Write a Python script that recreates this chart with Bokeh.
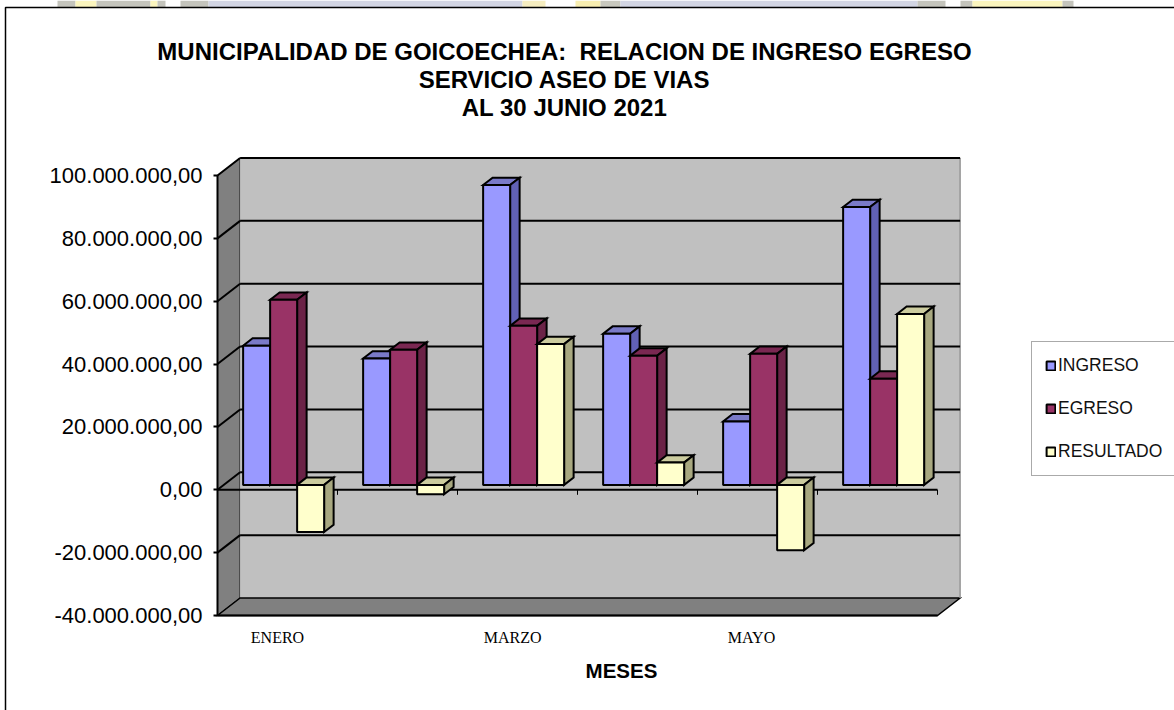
from bokeh.embed import file_html
from bokeh.resources import INLINE
from bokeh.plotting import figure
from bokeh.models import (Range1d, FixedTicker, BoxAnnotation, Label, Legend, LegendItem,
                          CustomJSTickFormatter)

titles = ["MUNICIPALIDAD DE GOICOECHEA:\u00a0 RELACION DE INGRESO EGRESO",
          "SERVICIO ASEO DE VIAS", "AL 30 JUNIO 2021"]
x_title = "MESES"
tick_months = {0.5: "ENERO", 2.46: "MARZO", 4.45: "MAYO"}
y_ticks = [-40e6, -20e6, 0, 20e6, 40e6, 60e6, 80e6, 100e6]
series_names = ["INGRESO", "EGRESO", "RESULTADO"]
ingreso = [44.3e6, 40.2e6, 95.4e6, 48.1e6, 20.2e6, 88.4e6]
egreso = [58.9e6, 43.0e6, 50.6e6, 41.1e6, 41.7e6, 33.8e6]
resultado = [-15.0e6, -3.0e6, 44.8e6, 7.1e6, -20.8e6, 54.4e6]

FRONT = ["#9999FF", "#993366", "#FFFFCC"]
SIDE = ["#6161B5", "#6B2347", "#A8A880"]
TOP = ["#7A7AC8", "#7A2852", "#CCCC9F"]

# plot geometry (pixels)
W, H = 1174, 710
L = 217
ZERO = 489.3
PX_CAT = 120.0
PX_VAL = 3.143e-6
DX, DY = 22.6, 17.5           # depth of the box
D1, D2 = 0.28, 0.70           # front / back of the bars inside the depth
BAR_W = 27 / PX_CAT
BAR_GAP = 19.3 / PX_CAT

p = figure(width=W, height=H, output_backend="svg", toolbar_location=None,
           x_range=Range1d(-L / PX_CAT, (W - L) / PX_CAT),
           y_range=Range1d((ZERO - H) / PX_VAL, ZERO / PX_VAL),
           min_border_left=0, min_border_right=0, min_border_top=0, min_border_bottom=0,
           background_fill_color="white", border_fill_color="white",
           outline_line_color=None, margin=(0, 0, 0, 0))
p.grid.visible = False

ox, oy = DX / PX_CAT, DY / PX_VAL   # depth vector in data units


def face(pts, fill, lw=2, line="black"):
    return p.patch([a for a, _ in pts], [b for _, b in pts], fill_color=fill, line_color=line,
                   line_width=lw, line_join="miter")


def seg(x0, y0, x1, y1, lw=2):
    p.line([x0, x1], [y0, y1], line_color="black", line_width=lw)


ymin, ymax = -40e6, 100e6
# walls and floor
face([(0, ymin), (ox, ymin + oy), (ox, ymax + oy), (0, ymax)], "#808080", 1)
face([(ox, ymin + oy), (6 + ox, ymin + oy), (6 + ox, ymax + oy), (ox, ymax + oy)], "#C0C0C0", 0, "#C0C0C0")
face([(0, ymin), (6, ymin), (6 + ox, ymin + oy), (ox, ymin + oy)], "#808080", 1.5)
p.line([6 + ox, 6 + ox], [ymin + oy, ymax + oy], line_color="#969696", line_width=1.5)
for v in y_ticks:
    if v == ymin:
        continue
    seg(0, v, ox, v + oy)
    seg(ox, v + oy, 6 + ox, v + oy)
# category axis at zero
seg(0, 0, 6, 0)
for c in range(1, 7):
    seg(c, 0, c, -5 / PX_VAL * 1.0, 1)


def bar(c, s, val):
    x0 = c + BAR_GAP + D1 * ox + s * BAR_W
    x1 = x0 + BAR_W
    yb = D1 * oy
    yt = val + D1 * oy
    d = (D2 - D1)
    top = max(yb, yt)
    low = min(yb, yt)
    face([(x0, top), (x1, top), (x1 + d * ox, top + d * oy), (x0 + d * ox, top + d * oy)], TOP[s])
    face([(x1, low), (x1 + d * ox, low + d * oy), (x1 + d * ox, top + d * oy), (x1, top)], SIDE[s])
    return p.quad(left=[x0], right=[x1], bottom=[low], top=[top], fill_color=FRONT[s],
                  line_color="black", line_width=2)


renderers = [None, None, None]
for c in range(6):
    for s, vals in enumerate([ingreso, egreso, resultado]):
        r = bar(c, s, vals[c])
        renderers[s] = renderers[s] or r

# axes
yax = p.yaxis[0]
yax.fixed_location = 0
yax.ticker = FixedTicker(ticks=y_ticks)
yax.bounds = (ymin, ymax)
yax.formatter = CustomJSTickFormatter(code="""
  const s = Math.abs(tick).toFixed(0).replace(/\\B(?=(\\d{3})+(?!\\d))/g, '.');
  return (tick < 0 ? '-' : '') + s + ',00';
""")
yax.major_label_text_font = "Liberation Sans"
yax.major_label_text_font_size = "22px"
yax.major_label_text_color = "black"
yax.major_tick_out = 4
yax.major_tick_in = 0
yax.minor_tick_line_color = None
yax.axis_line_width = 2
yax.major_tick_line_width = 2
yax.major_label_standoff = 11

xax = p.xaxis[0]
xax.fixed_location = -40e6
xax.ticker = FixedTicker(ticks=list(tick_months))
xax.major_label_overrides = dict(tick_months)
xax.bounds = (0, 6)
xax.major_tick_line_color = None
xax.minor_tick_line_color = None
xax.major_label_text_font = "Liberation Serif"
xax.major_label_text_font_size = "16px"
xax.major_label_text_color = "black"
xax.axis_line_width = 2
xax.major_label_standoff = 7

# page frame and the sliver of background above it


def strip(a, b, col):
    p.add_layout(BoxAnnotation(left=a, right=b, top=0, bottom=7, left_units="canvas", right_units="canvas",
                               top_units="canvas", bottom_units="canvas", fill_color=col, fill_alpha=1,
                               line_color=None, level="underlay"))


for a, b, col in [(57, 75, "#C4C4BC"), (75, 96, "#FBF5BE"), (96, 150, "#C4C4BC"), (150, 157, "#FBF5BE"),
                  (157, 165, "#C4C4BC"), (180, 208, "#C4C4BC"), (208, 522, "#D2D5E3"), (522, 545, "#F5EDC0"),
                  (575, 600, "#F8EEB0"), (600, 620, "#C8C8BE"), (620, 917, "#D2D5E3"), (917, 945, "#C4C4BC"),
                  (960, 972, "#C4C4BC"), (972, 1062, "#FBF5BE"), (1062, 1073, "#C4C4BC")]:
    strip(a, b, col)
p.add_layout(BoxAnnotation(left=5, right=W + 10, top=7, bottom=H + 10, left_units="canvas", right_units="canvas",
                           top_units="canvas", bottom_units="canvas", fill_color=None, fill_alpha=0,
                           line_color="black", line_width=1.5, line_alpha=1, level="underlay"))

# titles
for text, y in zip(titles, [50.5, 78.5, 106.5]):
    p.add_layout(Label(x=564, y=y, x_units="canvas", y_units="canvas", text=text, text_align="center",
                       text_baseline="middle", text_font="Liberation Sans", text_font_style="bold",
                       text_font_size="24px", text_color="black"))
p.add_layout(Label(x=621, y=669.5, x_units="canvas", y_units="canvas", text=x_title, text_align="center",
                   text_baseline="middle", text_font="Liberation Sans", text_font_style="bold",
                   text_font_size="20.5px", text_color="black"))

legend = Legend(items=[LegendItem(label=n, renderers=[r]) for n, r in zip(series_names, renderers)],
                location=(1031, H - 476), border_line_color="#555555", border_line_width=1.5,
                background_fill_color="white", background_fill_alpha=1,
                glyph_width=11, glyph_height=11, label_standoff=2, padding=13, spacing=22, margin=0,
                label_text_font="Liberation Sans", label_text_font_size="17.5px", label_text_color="#111111",
                label_height=20)
p.add_layout(legend)

open("out.html", "w").write(file_html(p, INLINE))
